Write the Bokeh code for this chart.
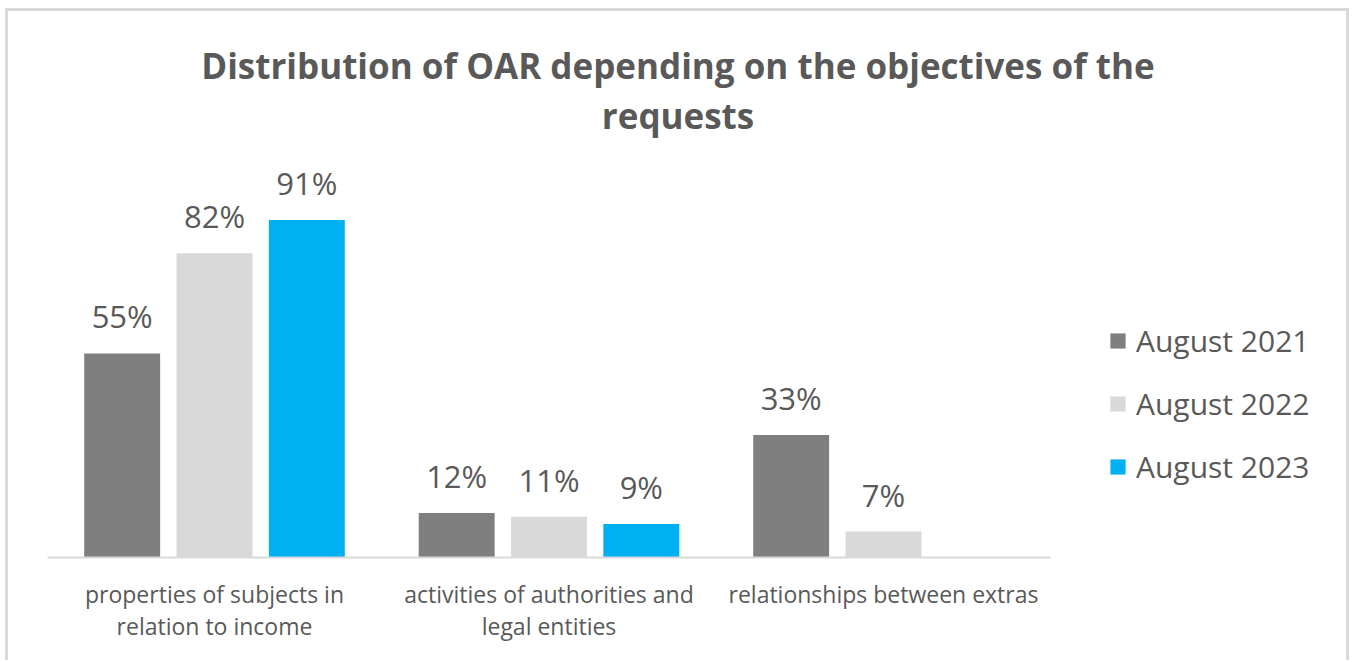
import numpy as np
from bokeh.plotting import figure
from bokeh.models import Range1d, FixedTicker, Label, Legend, LegendItem, ColumnDataSource
from bokeh.embed import file_html
from bokeh.resources import INLINE
from bokeh.core.properties import value

# ---------------- data ----------------
categories = [
    "properties of subjects in\nrelation to income",
    "activities of authorities and\nlegal entities",
    "relationships between extras",
]
series_names = ["August 2021", "August 2022", "August 2023"]
aug_2021 = [55, 12, 33]
aug_2022 = [82, 11, 7]
aug_2023 = [91, 9, None]
series_values = [aug_2021, aug_2022, aug_2023]
series_colors = ["#7f7f7f", "#d9d9d9", "#00b0f0"]
title_lines = ["Distribution of OAR depending on the objectives of the", "requests"]

# ---------------- layout ----------------
W, H = 1350, 660
FONT = "Open Sans"
TEXT = "#595959"
PX_PER_CAT = 334.5
x_start = -214 / PX_PER_CAT
x_end = x_start + W / PX_PER_CAT
PX_PER_UNIT = 3.71
BASE = 557
y_end = BASE / PX_PER_UNIT

p = figure(width=W, height=H, x_range=Range1d(x_start, x_end), y_range=Range1d(0, y_end),
           output_backend="svg", toolbar_location=None, y_axis_location=None,
           min_border_left=0, min_border_right=0, min_border_top=0, min_border_bottom=H - BASE)
p.grid.visible = False
p.outline_line_color = None
p.background_fill_color = None
p.border_fill_color = None
p.styles = {"box-shadow": ("inset 5px 0 0 0 #ffffff, inset 0 8px 0 0 #ffffff, inset -1px 0 0 0 #ffffff, "
                           "inset 8px 0 0 0 #d9d9d9, inset 0 11px 0 0 #d9d9d9, inset -4px 0 0 0 #d9d9d9")}

ax = p.xaxis[0]
ax.ticker = FixedTicker(ticks=list(range(len(categories))))
ax.major_label_overrides = {i: c for i, c in enumerate(categories)}
ax.bounds = (-0.5, len(categories) - 0.5)
ax.axis_line_color = "#d9d9d9"
ax.axis_line_width = 2
ax.major_tick_line_color = None
ax.minor_tick_line_color = None
ax.major_label_text_font = FONT
ax.major_label_text_font_size = "23px"
ax.major_label_text_color = TEXT
ax.major_label_text_line_height = 1.02
ax.major_label_standoff = 14

offsets = [-0.276, 0.0, 0.276]
bar_w = 0.227
items = []
for k, (name, vals, col) in enumerate(zip(series_names, series_values, series_colors)):
    xs = [i + offsets[k] for i, v in enumerate(vals) if v is not None]
    ys = [v for v in vals if v is not None]
    src = ColumnDataSource(dict(x=xs, top=ys, label=[f"{v}%" for v in ys]))
    r = p.vbar(x="x", top="top", width=bar_w, source=src, fill_color=col, line_color=None)
    p.text(x="x", y="top", text="label", source=src, y_offset=-37, text_align="center",
           text_baseline="middle", text_font=value(FONT), text_font_size="31px", text_color=TEXT)
    items.append(LegendItem(label=name, renderers=[r]))

legend = Legend(items=items, location=(1108, 70), orientation="vertical",
                glyph_width=19, glyph_height=19, label_height=30, spacing=22, label_standoff=9,
                padding=0, margin=0, border_line_color=None, background_fill_alpha=0,
                label_text_font=FONT, label_text_font_size="30px", label_text_color=TEXT)
p.add_layout(legend)

x_mid = x_start + 677.5 / PX_PER_CAT
for line, ypx in zip(title_lines, [65, 115]):
    p.add_layout(Label(x=x_mid, y=(BASE - ypx) / PX_PER_UNIT, text=line, text_align="center",
                       text_baseline="middle", text_font=FONT, text_font_size="35px",
                       text_font_style="bold", text_color=TEXT))

open("out.html", "w").write(file_html(p, INLINE))
